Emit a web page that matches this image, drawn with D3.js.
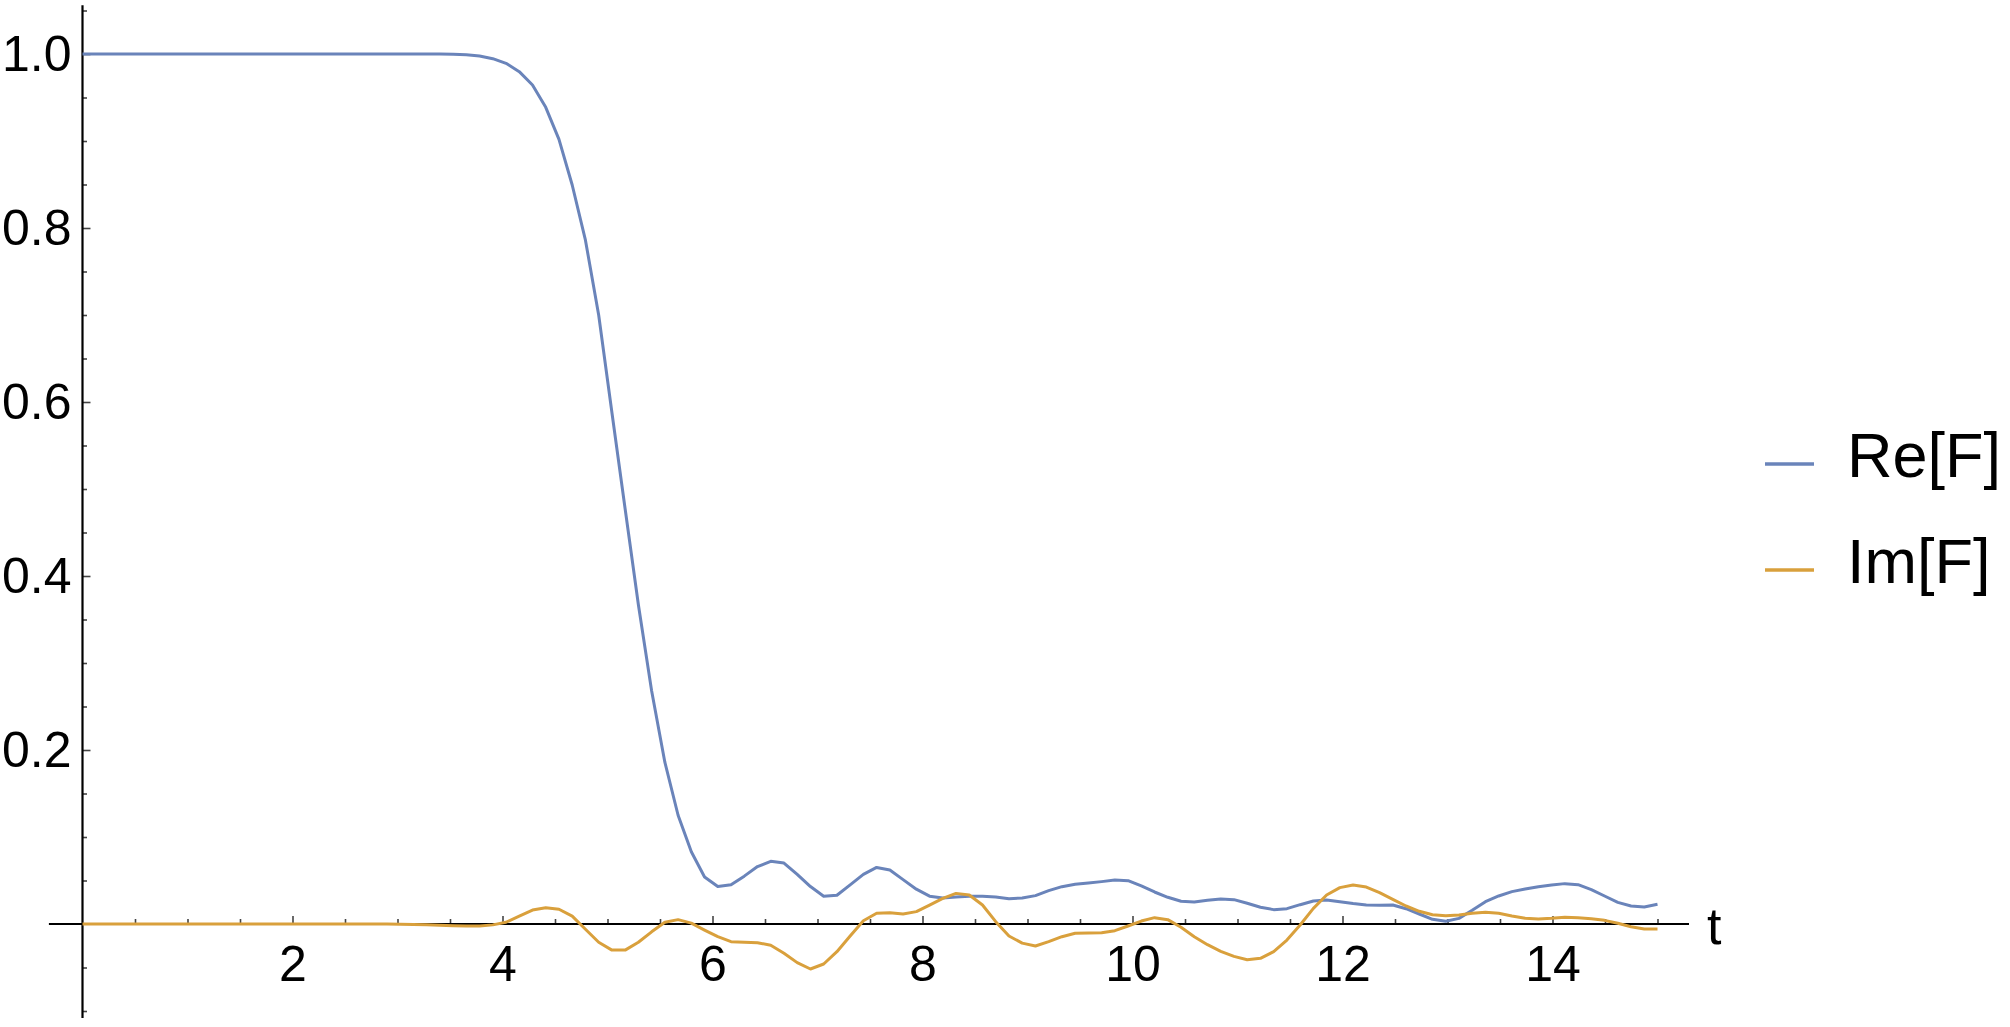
<!DOCTYPE html>
<html lang="en">
<head>
<meta charset="UTF-8">
<title>Re[F] and Im[F] vs t</title>
<script src="https://d3js.org/d3.v7.min.js"></script>
<style>
  body { margin: 0; background: #fff; }
  text { font-family: "Liberation Sans", Arial, sans-serif; }
</style>
</head>
<body>
<script>
// 120 samples from t = 0 to t = 15
const tStep = 15 / 119;
const times = d3.range(120).map(i => i * tStep);

const reF = [
  1, 1, 1, 1, 1, 1, 1, 1, 1, 1,
  1, 1, 1, 1, 1, 1, 1, 1, 1, 1,
  1, 1, 1, 1, 1, 1, 1, 0.9999, 0.9997, 0.9992,
  0.9977, 0.9946, 0.9893, 0.9797, 0.9644, 0.9387, 0.9019, 0.8494, 0.786, 0.700,
  0.588, 0.477, 0.367, 0.268, 0.186, 0.125, 0.083, 0.054, 0.043, 0.045,
  0.055, 0.066, 0.072, 0.070, 0.057, 0.043, 0.032, 0.033, 0.045, 0.057,
  0.065, 0.062, 0.051, 0.040, 0.032, 0.030, 0.031, 0.032, 0.032, 0.031,
  0.029, 0.030, 0.0326, 0.0383, 0.0429, 0.0456, 0.0471, 0.0487, 0.0506, 0.0498,
  0.0437, 0.0368, 0.0307, 0.0261, 0.0253, 0.0272, 0.0287, 0.0280, 0.0238, 0.0192,
  0.0165, 0.0176, 0.0222, 0.0264, 0.0276, 0.0257, 0.0235, 0.0218, 0.0215, 0.0218,
  0.0176, 0.0115, 0.0054, 0.0031, 0.0065, 0.0157, 0.0257, 0.0322, 0.0372, 0.0402,
  0.0429, 0.0448, 0.0464, 0.0452, 0.0395, 0.0322, 0.0249, 0.0207, 0.0195, 0.0226
];

const imF = [
  0, 0, 0, 0, 0, 0, 0, 0, 0, 0,
  0, 0, 0, 0, 0, 0, 0, 0, 0, 0,
  0, 0, 0, 0, -0.0003, -0.0006, -0.001, -0.0015, -0.002, -0.0023,
  -0.0023, -0.001, 0.002, 0.009, 0.016, 0.0187, 0.017, 0.009, -0.006, -0.021,
  -0.030, -0.030, -0.021, -0.009, 0.002, 0.005, 0.001, -0.007, -0.0146, -0.0203,
  -0.021, -0.0215, -0.0245, -0.0337, -0.0444, -0.0517, -0.046, -0.0318, -0.0138, 0.0038,
  0.0123, 0.013, 0.0115, 0.0142, 0.0218, 0.0295, 0.0352, 0.0333, 0.0218, 0.0027,
  -0.0138, -0.022, -0.0253, -0.0203, -0.0146, -0.0107, -0.0103, -0.0100, -0.0077, -0.0023,
  0.0034, 0.0073, 0.0050, -0.0038, -0.0146, -0.0238, -0.0314, -0.0372, -0.0410, -0.0395,
  -0.0318, -0.0184, -0.0011, 0.0180, 0.0333, 0.0418, 0.0448, 0.0425, 0.0360, 0.0283,
  0.0207, 0.0146, 0.0107, 0.0096, 0.0103, 0.0123, 0.0134, 0.0123, 0.0092, 0.0065,
  0.0057, 0.0065, 0.0077, 0.0073, 0.0061, 0.0042, 0.0008, -0.0031, -0.0057, -0.0057
];

const seriesNames = ["Re[F]", "Im[F]"];
const seriesColors = ["#6a84ba", "#d9a03c"];

const xMajor = [2, 4, 6, 8, 10, 12, 14];
const yMajor = [0.2, 0.4, 0.6, 0.8, 1.0];

const width = 2010, height = 1027;

const svg = d3.select("body").append("svg")
  .attr("width", width)
  .attr("height", height);

const x = d3.scaleLinear().domain([0, 15]).range([82.5, 1657.5]);
const y = d3.scaleLinear().domain([0, 1]).range([924, 54]);

// minor ticks
const xMinor = d3.range(0.5, 15.01, 0.5).filter(v => !xMajor.includes(v));
const yMinor = d3.range(-0.1, 1.06, 0.05).filter(v => Math.abs(v) > 1e-6 && !yMajor.some(m => Math.abs(m - v) < 1e-6));

svg.append("g")
  .attr("transform", `translate(0,${y(0)})`)
  .call(d3.axisBottom(x).tickValues(xMinor).tickSize(-5).tickFormat(""))
  .call(g => g.select(".domain").remove())
  .call(g => g.selectAll("line").attr("stroke", "#444").attr("stroke-width", 1.6));

svg.append("g")
  .attr("transform", `translate(0,${y(0)})`)
  .call(d3.axisBottom(x).tickValues(xMajor).tickSize(-8).tickPadding(21).tickFormat(d3.format("d")))
  .call(g => g.select(".domain").remove())
  .call(g => g.selectAll("line").attr("stroke", "#444").attr("stroke-width", 1.6))
  .call(g => g.selectAll("text").attr("fill", "#000").style("font-size", "50px")
    .style("font-family", "'Liberation Sans', Arial, sans-serif"));

svg.append("g")
  .attr("transform", `translate(${x(0)},0)`)
  .call(d3.axisLeft(y).tickValues(yMinor).tickSize(-4.5).tickFormat(""))
  .call(g => g.select(".domain").remove())
  .call(g => g.selectAll("line").attr("stroke", "#444").attr("stroke-width", 1.6));

svg.append("g")
  .attr("transform", `translate(${x(0)},0)`)
  .call(d3.axisLeft(y).tickValues(yMajor).tickSize(-8).tickPadding(11).tickFormat(d3.format(".1f")))
  .call(g => g.select(".domain").remove())
  .call(g => g.selectAll("line").attr("stroke", "#444").attr("stroke-width", 1.6))
  .call(g => g.selectAll("text").attr("fill", "#000").style("font-size", "50px")
    .style("font-family", "'Liberation Sans', Arial, sans-serif"));

// axis lines
svg.append("line")
  .attr("x1", x(-0.32)).attr("x2", x(15.3))
  .attr("y1", y(0)).attr("y2", y(0))
  .attr("stroke", "#000").attr("stroke-width", 2.2);

svg.append("line")
  .attr("x1", x(0)).attr("x2", x(0))
  .attr("y1", y(1.056)).attr("y2", y(-0.108))
  .attr("stroke", "#000").attr("stroke-width", 2.2);

svg.append("text")
  .attr("x", 1707)
  .attr("y", 944)
  .style("font-size", "52px")
  .text("t");

// curves
const line = d3.line()
  .x((d, i) => x(times[i]))
  .y(d => y(d));

[reF, imF].forEach((vals, i) => {
  svg.append("path")
    .datum(vals)
    .attr("fill", "none")
    .attr("stroke", seriesColors[i])
    .attr("stroke-width", 3)
    .attr("stroke-linejoin", "round")
    .attr("d", line);
});

// legend
const legend = svg.append("g").attr("transform", "translate(1765,464)");
seriesNames.forEach((name, i) => {
  const row = legend.append("g").attr("transform", `translate(0,${i * 106})`);
  row.append("line")
    .attr("x1", 0).attr("x2", 49)
    .attr("stroke", seriesColors[i])
    .attr("stroke-width", 3.5);
  row.append("text")
    .attr("x", 82)
    .attr("y", 13)
    .style("font-size", "63px")
    .text(name);
});
</script>
</body>
</html>
